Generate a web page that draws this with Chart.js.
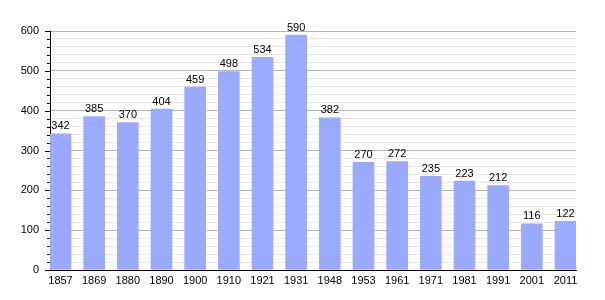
<!DOCTYPE html>
<html>
<head>
<meta charset="utf-8">
<script src="https://cdn.jsdelivr.net/npm/chart.js@4"></script>
<style>
  html, body { margin: 0; padding: 0; background: #fff; }
  #wrap { width: 605px; height: 300px; }
</style>
</head>
<body>
<div id="wrap"><canvas id="popChart"></canvas></div>
<script>
// data
const years = ['1857', '1869', '1880', '1890', '1900', '1910', '1921', '1931',
  '1948', '1953', '1961', '1971', '1981', '1991', '2001', '2011'];
const population = [342, 385, 370, 404, 459, 498, 534, 590, 382, 270, 272, 235, 223, 212, 116, 122];
const yTicks = [0, 100, 200, 300, 400, 500, 600];

const FONT = "'Liberation Sans', Arial, sans-serif";

// value labels above bars + small tick marks on the y axis
const extras = {
  id: 'extras',
  afterDatasetsDraw(chart) {
    const ctx = chart.ctx;
    const meta = chart.getDatasetMeta(0);
    ctx.save();
    ctx.fillStyle = '#000';
    ctx.font = '11px ' + FONT;
    ctx.textAlign = 'center';
    ctx.textBaseline = 'bottom';
    meta.data.forEach((bar, i) => {
      ctx.fillText(population[i], bar.x, bar.y - 2);
    });
    // y tick marks
    const y = chart.scales.y;
    const left = chart.chartArea.left;
    ctx.strokeStyle = '#000';
    ctx.lineWidth = 1;
    y.ticks.forEach(t => {
      const py = Math.round(y.getPixelForValue(t.value)) + 0.5;
      const len = t.value % 100 === 0 ? 5 : 3;
      ctx.beginPath();
      ctx.moveTo(left - len, py);
      ctx.lineTo(left, py);
      ctx.stroke();
    });
    ctx.restore();
  }
};

const config = {
  type: 'bar',
  data: {
    datasets: [{
      data: population.map((v, i) => ({ x: i, y: v })),
      backgroundColor: '#99aaff',
      borderWidth: 0,
      barThickness: 21
    }]
  },
  plugins: [extras],
  options: {
    responsive: true,
    maintainAspectRatio: false,
    animation: false,
    layout: { padding: { top: 31, right: 29, left: 0, bottom: 0 } },
    plugins: {
      legend: { display: false },
      tooltip: { enabled: false }
    },
    scales: {
      x: {
        type: 'linear',
        offset: false,
        min: -0.312,
        max: 15.312,
        afterBuildTicks: s => { s.ticks = years.map((_, i) => ({ value: i })); },
        afterFit: s => { s.height = 30; },
        grid: { display: false, drawTicks: false, offset: false },
        border: { display: true, color: '#000', width: 1 },
        ticks: {
          autoSkip: false,
          maxRotation: 0,
          padding: 4,
          color: '#000',
          font: { family: FONT, size: 11 },
          callback: v => years[v]
        }
      },
      y: {
        min: 0,
        max: 600,
        afterBuildTicks: s => {
          const t = [];
          for (let v = 0; v <= 600; v += 20) t.push({ value: v });
          s.ticks = t;
        },
        afterFit: s => { s.width = 50; },
        grid: {
          drawTicks: false,
          color: c => (c.tick && yTicks.includes(c.tick.value)) ? '#b4b4b4' : '#e6e6e6'
        },
        border: { display: true, color: '#000', width: 1 },
        ticks: {
          autoSkip: false,
          padding: 11,
          color: '#000',
          font: { family: FONT, size: 11 },
          callback: v => yTicks.includes(v) ? String(v) : ''
        }
      }
    }
  }
};

new Chart(document.getElementById('popChart'), config);
</script>
</body>
</html>
